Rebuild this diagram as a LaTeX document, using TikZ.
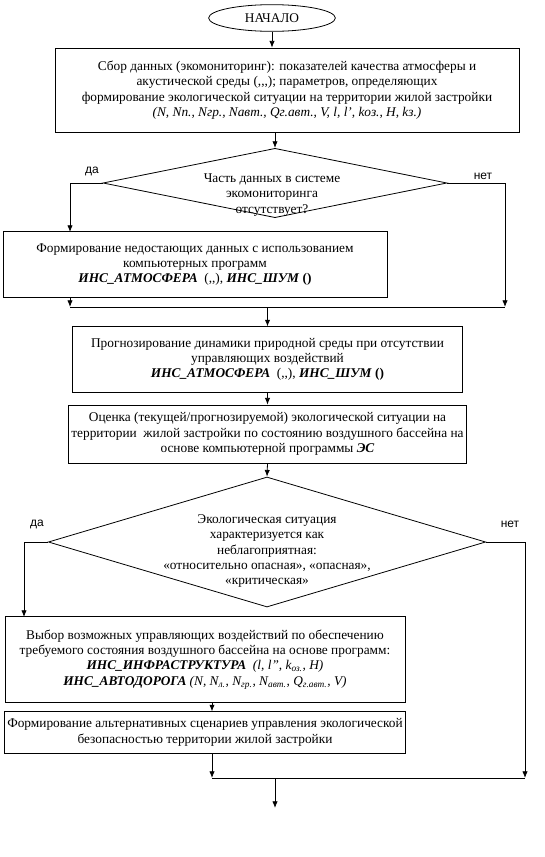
\documentclass[tikz,border=0pt]{standalone}
\usepackage{fontspec}
\setmainfont{Liberation Serif}
\newfontfamily\answerfont{Liberation Sans}
\usetikzlibrary{arrows.meta,positioning,shapes.geometric}
\newcommand{\prog}[1]{\textbf{\textit{#1}}}
\tikzset{
  >={Latex[length=5pt,width=4pt]},
  every node/.style={font=\fontsize{10}{11.5}\selectfont,text=black},
  block/.style={draw,line width=0.6pt,align=center,inner sep=2pt},
  startnode/.style={draw,ellipse,line width=0.6pt,inner sep=0pt},
  decision/.style={draw,diamond,line width=0.6pt,inner sep=0pt},
  answer/.style={font=\answerfont\fontsize{9}{10}\selectfont},
  arrow/.style={->,line width=0.6pt},
  joinline/.style={line width=0.6pt}
}
\begin{document}
\begin{tikzpicture}[x=0.75pt,y=-0.75pt]
  \useasboundingbox (0,0) rectangle (545,857);

  \node[startnode,minimum width=95pt,minimum height=20pt] (start) at (272,18) {НАЧАЛО};
  \node[block,minimum width=348pt,minimum height=63pt] (collect) at (287,90)
    {Сбор данных (экомониторинг): показателей качества атмосферы и\\
     акустической среды ({,}{,}{,}); параметров, определяющих\\
     формирование экологической ситуации на территории жилой застройки\\
     \textit{(N, Nп.,  Nгр., Nавт.,  Qг.авт., V, l, l', kоз., H, kз.)}};

  % first check
  \node[decision,minimum width=258pt,minimum height=52pt] (q1) at (275,183) {};
  \node[align=center] (q1txt) at (272,195) {Часть данных в системе\\ экомониторинга\\ отсутствует?};
  \node[answer] (yes1lbl) at (92,171) {да};
  \node[answer] (no1lbl) at (483,176) {нет};

  \node[block,minimum width=288pt,minimum height=49pt] (fill) at (195,264.5)
    {Формирование недостающих данных с использованием\\
     компьютерных программ\\
     \prog{ИНС\_АТМОСФЕРА}\ \ ({,}{,}),\ \prog{ИНС\_ШУМ} \textbf{()}};

  \node[block,minimum width=293pt,minimum height=49pt] (forecast) at (267.5,359.5)
    {Прогнозирование динамики природной среды при отсутствии\\
     управляющих воздействий\\
     \prog{ИНС\_АТМОСФЕРА}\ \ ({,}{,}),\ \prog{ИНС\_ШУМ} \textbf{()}};
  \node[block,minimum width=293pt,minimum height=43.5pt] (assess) at (267.5,434)
    {Оценка (текущей/прогнозируемой) экологической ситуации на\\
     территории\ \ жилой застройки по состоянию воздушного бассейна на\\
     основе компьютерной программы \prog{ЭС}};

  % second check
  \node[decision,minimum width=328pt,minimum height=97.5pt] (q2) at (267,542) {};
  \node[align=center] (q2txt) at (267,551) {Экологическая ситуация\\ характеризуется как\\ неблагоприятная:\\
    «относительно опасная», «опасная»,\\ «критическая»};
  \node[answer] (yes2lbl) at (37,524) {да};
  \node[answer] (no2lbl) at (510,524) {нет};

  \node[block,minimum width=300pt,minimum height=64pt] (choice) at (205,659.5)
    {Выбор возможных управляющих воздействий по обеспечению\\
     требуемого состояния воздушного бассейна на основе программ:\\
     \prog{ИНС\_ИНФРАСТРУКТУРА}\ \ \textit{(l, l'', k\textsubscript{оз.}, H)}\\
     \prog{ИНС\_АВТОДОРОГА} \textit{(N, N\textsubscript{л.}, N\textsubscript{гр.}, N\textsubscript{авт.}, Q\textsubscript{г.авт.}, V)}};
  \node[block,minimum width=300pt,minimum height=31pt] (scen) at (205,732.5)
    {Формирование альтернативных сценариев управления экологической\\
     безопасностью территории жилой застройки};

  \coordinate (yes1) at (70,232);
  \coordinate (no1) at (505,307);
  \coordinate (yes2) at (24,617);
  \coordinate (no2) at (525,778);
  \coordinate (out2) at (212,778);
  \coordinate (finish) at (275,808);

  \draw[arrow] (start.south) -- (start.south |- collect.north);
  \draw[arrow] (q1.north |- collect.south) -- (q1.north);
  \draw[arrow] (q1.west) -| (yes1);
  \draw[arrow] (q1.east) -| (no1);
  \draw[arrow] (yes1 |- fill.south) -- (yes1 |- no1);
  \draw[joinline] (yes1 |- no1) -- (no1);
  \draw[arrow] (forecast.north |- no1) -- (forecast.north);
  \draw[arrow] (forecast) -- (assess);
  \draw[arrow] (assess.south) -- (q2.north);
  \draw[arrow] (q2.west) -| (yes2);
  \draw[arrow] (q2.east) -| (no2);
  \draw[arrow] (out2 |- choice.south) -- (out2 |- scen.north);
  \draw[arrow] (out2 |- scen.south) -- (out2);
  \draw[joinline] (out2) -- (no2);
  \draw[arrow] (finish |- no2) -- (finish);
\end{tikzpicture}
\end{document}
